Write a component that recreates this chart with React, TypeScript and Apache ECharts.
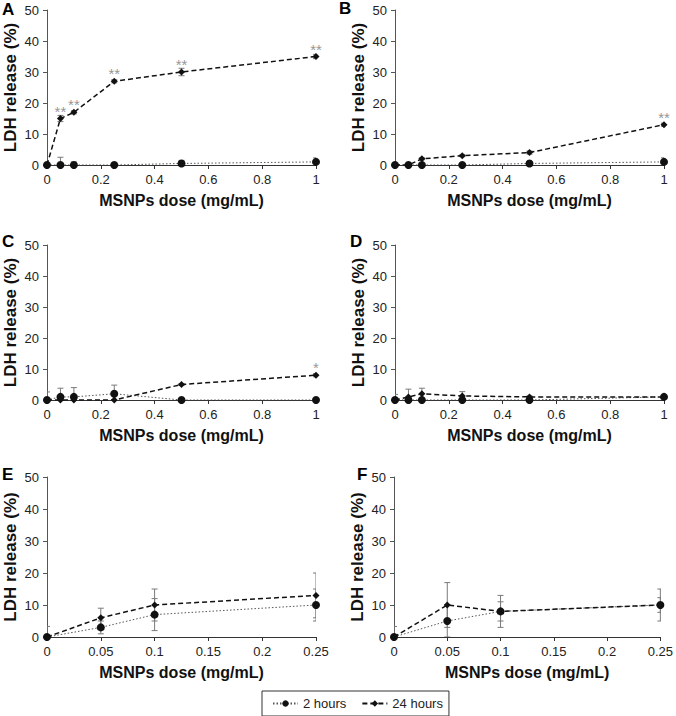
import React, { useEffect, useRef } from "react";
import * as echarts from "echarts";

// ---- Data ----
const DOSES_FULL = [0, 0.05, 0.1, 0.25, 0.5, 1];
const DOSES_LOW = [0, 0.05, 0.1, 0.25];

const A_2H = [0, 0, 0, 0, 0.5, 1];
const A_2H_ERR = [0, 2.5, 1, 0.7, 1, 1.3];
const A_24H = [0, 15, 17, 27, 30, 35];
const A_24H_ERR = [0, 1, 0.5, 0.5, 1.2, 0.7];
const A_STARS = ["", "**", "**", "**", "**", "**"];

const B_2H = [0, 0, 0, 0, 0.5, 1];
const B_2H_ERR = [0, 0, 0, 0, 0.5, 1.3];
const B_24H = [0, 0, 2, 3, 4, 13];
const B_24H_ERR = [0, 0, 0.3, 0.3, 0.5, 0.5];
const B_STARS = ["", "", "", "", "", "**"];

const C_2H = [0, 1, 1, 2, 0, 0];
const C_2H_ERR = [2.6, 2.8, 3, 2.8, 0, 0];
const C_24H = [0, 0, 0, 0, 5, 8];
const C_24H_ERR = [0, 0, 0, 0, 0.3, 0.5];
const C_STARS = ["", "", "", "", "", "*"];

const D_2H = [0, 0, 0, 0, 0, 1];
const D_2H_ERR = [1.8, 0, 0, 0, 0, 0];
const D_24H = [0, 1, 2, 1.3, 1, 1];
const D_24H_ERR = [0, 2.5, 1.8, 1.4, 0.3, 0.3];
const D_STARS = ["", "", "", "", "", ""];

const E_2H = [0, 3, 7, 10];
const E_2H_ERR = [0, 2, 5, 5];
const E_24H = [0, 6, 10, 13];
const E_24H_ERR = [3.3, 3, 5, 7];
const E_STARS = ["", "", "", ""];

const F_2H = [0, 5, 8, 10];
const F_2H_ERR = [0, 5, 3, 2.3];
const F_24H = [0, 10, 8, 10];
const F_24H_ERR = [3.3, 7, 5, 5];
const F_STARS = ["", "", "", ""];

const PANEL_LABELS = ["A", "B", "C", "D", "E", "F"];
const Y_TICKS = { min: 0, max: 50, interval: 10 };
const X_TITLE = "MSNPs dose (mg/mL)";
const Y_TITLE = "LDH release (%)";
const NAME_2H = "2 hours";
const NAME_24H = "24 hours";

const PANELS = [
  { doses: DOSES_FULL, xMax: 1, xInt: 0.2, h2: A_2H, h2e: A_2H_ERR, h24: A_24H, h24e: A_24H_ERR, stars: A_STARS },
  { doses: DOSES_FULL, xMax: 1, xInt: 0.2, h2: B_2H, h2e: B_2H_ERR, h24: B_24H, h24e: B_24H_ERR, stars: B_STARS },
  { doses: DOSES_FULL, xMax: 1, xInt: 0.2, h2: C_2H, h2e: C_2H_ERR, h24: C_24H, h24e: C_24H_ERR, stars: C_STARS },
  { doses: DOSES_FULL, xMax: 1, xInt: 0.2, h2: D_2H, h2e: D_2H_ERR, h24: D_24H, h24e: D_24H_ERR, stars: D_STARS },
  { doses: DOSES_LOW, xMax: 0.25, xInt: 0.05, h2: E_2H, h2e: E_2H_ERR, h24: E_24H, h24e: E_24H_ERR, stars: E_STARS },
  { doses: DOSES_LOW, xMax: 0.25, xInt: 0.05, h2: F_2H, h2e: F_2H_ERR, h24: F_24H, h24e: F_24H_ERR, stars: F_STARS },
];

// ---- Layout ----
const GRIDS = [
  { left: 47, top: 10, width: 269, height: 155 },
  { left: 395, top: 10, width: 269, height: 155 },
  { left: 47, top: 245, width: 269, height: 155 },
  { left: 395, top: 245, width: 269, height: 155 },
  { left: 47, top: 477, width: 269, height: 160 },
  { left: 394, top: 477, width: 270, height: 160 },
];
const LABEL_POS = [
  [2, 9], [339, 8], [2, 241], [350, 241], [2, 474], [357, 474],
];

const FONT = "'Liberation Sans', Arial, Helvetica, sans-serif";

function errorBarRender(params: any, api: any) {
  const x = api.value(0);
  const lo = api.value(1);
  const hi = api.value(2);
  const top = api.coord([x, hi]);
  const bot = api.coord([x, lo]);
  const w = 3;
  const style = { stroke: "#7a7a7a", lineWidth: 1 };
  return {
    type: "group",
    children: [
      { type: "line", shape: { x1: top[0], y1: top[1], x2: bot[0], y2: bot[1] }, style },
      { type: "line", shape: { x1: top[0] - w, y1: top[1], x2: top[0] + w, y2: top[1] }, style },
      { type: "line", shape: { x1: bot[0] - w, y1: bot[1], x2: bot[0] + w, y2: bot[1] }, style },
    ],
  };
}

function buildOption() {
  const grid: any[] = [];
  const xAxis: any[] = [];
  const yAxis: any[] = [];
  const series: any[] = [];
  const graphic: any[] = [];

  PANELS.forEach((p, i) => {
    grid.push({ ...GRIDS[i], containLabel: false });
    xAxis.push({
      type: "value",
      gridIndex: i,
      min: 0,
      max: p.xMax,
      interval: p.xInt,
      name: X_TITLE,
      nameLocation: "middle",
      nameGap: 27,
      nameTextStyle: { fontSize: 16, fontWeight: "bold", color: "#111", fontFamily: FONT },
      axisLine: { show: true, lineStyle: { color: "#333", width: 1 } },
      axisTick: { show: true, length: 4, lineStyle: { color: "#333" } },
      axisLabel: { fontSize: 13, color: "#222", margin: 8, fontFamily: FONT },
      splitLine: { show: false },
    });
    yAxis.push({
      type: "value",
      gridIndex: i,
      min: Y_TICKS.min,
      max: Y_TICKS.max,
      interval: Y_TICKS.interval,
      name: Y_TITLE,
      nameLocation: "middle",
      nameGap: 28,
      nameTextStyle: { fontSize: 17, fontWeight: "bold", color: "#111", fontFamily: FONT },
      axisLine: { show: true, lineStyle: { color: "#555", width: 1 } },
      axisTick: { show: true, length: 4, lineStyle: { color: "#555" } },
      axisLabel: { fontSize: 13, color: "#222", margin: 8, fontFamily: FONT },
      splitLine: { show: false },
    });

    const errData: any[] = [];
    p.doses.forEach((d, k) => {
      if (p.h2e[k] > 0) errData.push([d, p.h2[k] - p.h2e[k], p.h2[k] + p.h2e[k]]);
      if (p.h24e[k] > 0) errData.push([d, p.h24[k] - p.h24e[k], p.h24[k] + p.h24e[k]]);
    });
    series.push({
      type: "custom",
      xAxisIndex: i,
      yAxisIndex: i,
      renderItem: errorBarRender,
      data: errData,
      clip: true,
      silent: true,
      z: 1,
    });

    series.push({
      type: "line",
      name: NAME_2H,
      xAxisIndex: i,
      yAxisIndex: i,
      data: p.doses.map((d, k) => [d, p.h2[k]]),
      symbol: "circle",
      symbolSize: 8,
      itemStyle: { color: "#111" },
      lineStyle: { color: "#555", width: 1, type: [1.5, 2] },
      z: 3,
    });
    series.push({
      type: "line",
      name: NAME_24H,
      xAxisIndex: i,
      yAxisIndex: i,
      data: p.doses.map((d, k) => [d, p.h24[k]]),
      symbol: "diamond",
      symbolSize: 7,
      itemStyle: { color: "#111" },
      lineStyle: { color: "#111", width: 1.5, type: [5, 3] },
      z: 4,
    });

    const starData = p.doses
      .map((d, k) => [d, p.h24[k], p.stars[k]])
      .filter((v) => v[2] !== "");
    if (starData.length) {
      series.push({
        type: "scatter",
        xAxisIndex: i,
        yAxisIndex: i,
        data: starData,
        symbolSize: 0,
        silent: true,
        label: {
          show: true,
          position: "top",
          distance: 0,
          formatter: (q: any) => q.value[2],
          fontSize: 15,
          color: "#7a7a7a",
          fontFamily: FONT,
        },
        z: 5,
      });
    }

    graphic.push({
      type: "text",
      left: LABEL_POS[i][0],
      top: LABEL_POS[i][1] - 8,
      style: {
        text: PANEL_LABELS[i],
        font: `bold 17px ${FONT}`,
        fill: "#000",
      },
    });
  });

  return {
    animation: false,
    backgroundColor: "#fff",
    grid,
    xAxis,
    yAxis,
    series,
    graphic,
    legend: {
      data: [NAME_2H, NAME_24H],
      left: 262,
      top: 691,
      orient: "horizontal",
      itemWidth: 25,
      itemHeight: 8,
      itemGap: 15,
      borderColor: "#333",
      borderWidth: 1,
      padding: [6, 6, 6, 10],
      textStyle: { fontSize: 13, color: "#222", fontFamily: FONT },
      selectedMode: false,
    },
  };
}

export default function App() {
  const ref = useRef<HTMLDivElement>(null);
  useEffect(() => {
    if (!ref.current) return;
    const chart = echarts.init(ref.current, undefined, { renderer: "svg" });
    chart.setOption(buildOption() as any);
    return () => chart.dispose();
  }, []);
  return (
    <div
      ref={ref}
      style={{ position: "fixed", left: 0, top: 0, width: 676, height: 716, background: "#fff" }}
    />
  );
}
